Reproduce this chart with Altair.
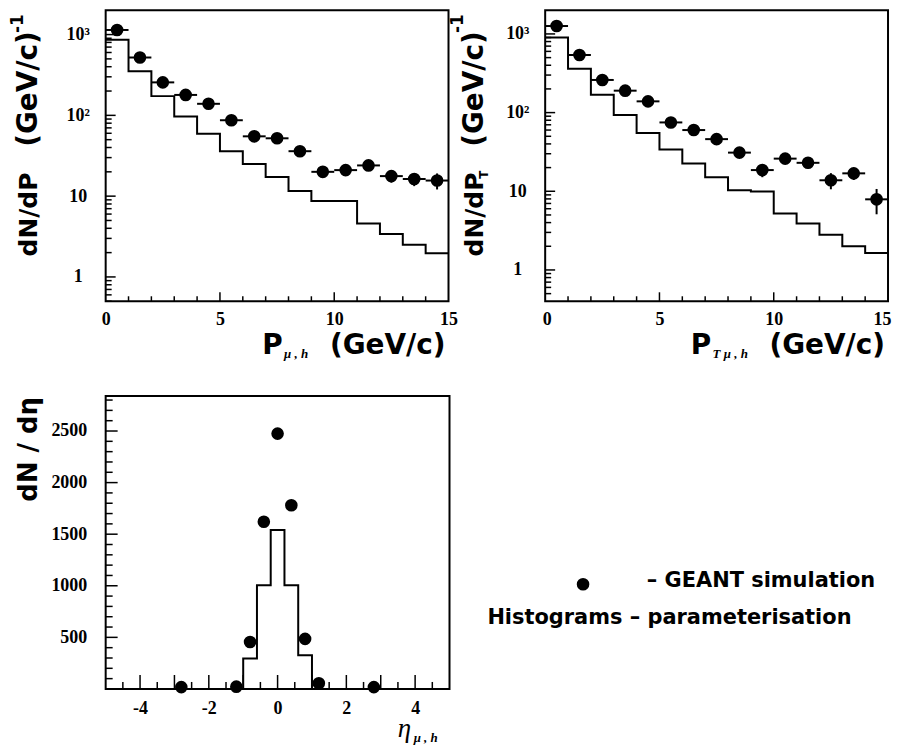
import altair as alt
import pandas as pd

# ---------------- data ----------------
p_centers = [0.5, 1.5, 2.5, 3.5, 4.5, 5.5, 6.5, 7.5, 8.5, 9.5, 10.5, 11.5, 12.5, 13.5, 14.5]
p_lo = [0, 1, 2, 3, 4, 5, 6, 7, 8, 9, 10, 11, 12, 13, 14]
p_hi = [1, 2, 3, 4, 5, 6, 7, 8, 9, 10, 11, 12, 13, 14, 15]
hist_edges = [0, 1, 2, 3, 4, 5, 6, 7, 8, 9, 10, 11, 12, 13, 14, 15]

sim_p = [1140, 520, 256, 179, 139, 87, 55, 52, 36, 20, 21, 24, 17.7, 16.3, 15.6]
sim_p_err = [30, 20, 14, 12, 10, 7, 5, 5, 4, 2.5, 2.5, 3, 3, 3, 3.5]
hist_p = [860, 352, 173, 97, 59, 36, 25, 17.3, 11.6, 8.7, 8.7, 4.6, 3.4, 2.5, 1.96]

sim_pt = [1260, 540, 260, 190, 139, 75, 60, 46, 31, 18.6, 26, 23, 13.8, 16.9, 7.9]
sim_pt_err = [30, 20, 14, 12, 10, 7, 6, 5, 4, 3.5, 3.5, 3.5, 3.2, 3, 2.8]
hist_pt = [898, 360, 169, 93, 55, 34, 22.6, 15.1, 10.3, 9.9, 5.2, 3.9, 2.8, 2.0, 1.64]

eta_sim_x = [-2.8, -1.2, -0.8, -0.4, 0.0, 0.4, 0.8, 1.2, 2.8]
eta_sim_y = [18, 22, 455, 1620, 2475, 1780, 485, 55, 18]
eta_edges = [-5.0, -1.0, -0.6, -0.2, 0.2, 0.6, 1.0, 5.0]
eta_hist = [0, 295, 1005, 1540, 1005, 327, 0]

log_major = [1, 10, 100, 1000]
log_minor = [0.5, 0.6, 0.7, 0.8, 0.9, 2, 3, 4, 5, 6, 7, 8, 9,
             20, 30, 40, 50, 60, 70, 80, 90, 200, 300, 400, 500, 600, 700, 800, 900]
p_tick_major = [5, 10]
p_tick_minor = [1, 2, 3, 4, 6, 7, 8, 9, 11, 12, 13, 14]
p_labels = [0, 5, 10, 15]
eta_tick_major = [-4, -3, -2, -1, 0, 1, 2, 3, 4]
eta_tick_minor = [-4.5, -3.5, -2.5, -1.5, -0.5, 0.5, 1.5, 2.5, 3.5, 4.5]
eta_labels = [-4, -2, 0, 2, 4]
eta_ytick_major = [500, 1000, 1500, 2000, 2500]
eta_ytick_minor = [100, 200, 300, 400, 600, 700, 800, 900, 1100, 1200, 1300, 1400,
                   1600, 1700, 1800, 1900, 2100, 2200, 2300, 2400, 2600, 2700, 2800]

# ---------------- style ----------------
TW = 344
TH = 292
BW = 345
BH = 294
SANS = "DejaVu Sans"
SERIF = "Liberation Serif"
LBL = 18


def txt(text, x, y, size=26, angle=0, align="left", baseline="alphabetic",
        font=SANS, weight="bold", style="normal"):
    return alt.Chart(pd.DataFrame({"d": [0]})).mark_text(
        text=text, font=font, fontSize=size, fontWeight=weight, fontStyle=style,
        align=align, baseline=baseline, angle=angle, color="black"
    ).encode(x=alt.value(x), y=alt.value(y))


def yticks(vals, Y, length):
    return alt.Chart(pd.DataFrame({"t": vals})).mark_tick(
        orient="horizontal", color="black", thickness=1.5, size=length, opacity=1
    ).encode(y=Y("t:Q"), x=alt.value(length / 2))


def xticks(vals, X, length, h):
    return alt.Chart(pd.DataFrame({"t": vals})).mark_tick(
        orient="vertical", color="black", thickness=1.5, size=length, opacity=1
    ).encode(x=X("t:Q"), y=alt.value(h - length / 2))


def log_panel(sim, err, hist, ydomain, sub_x_text, sub_title_x, ytitle_x, sup_x,
              ysub, flush):
    xs = alt.Scale(domain=[0, 15], nice=False, zero=False)
    ys = alt.Scale(type="log", domain=ydomain, nice=False)
    if flush:
        xaxis = alt.Axis(values=p_labels, format="d", title=None, labelPadding=9,
                         labelFlush=True, labelFlushOffset=3)
    else:
        xaxis = alt.Axis(values=p_labels, format="d", title=None, labelPadding=9)
    yaxis = alt.Axis(values=log_major, title=None, labelAlign="center", labelPadding=28,
                     labelExpr="datum.value == 1000 ? '10³' : datum.value == 100 ? '10²' : datum.value == 10 ? '10' : '1'")

    def X(f):
        return alt.X(f, scale=xs, axis=xaxis)

    def Y(f):
        return alt.Y(f, scale=ys, axis=yaxis)

    dfh = pd.DataFrame({"x": hist_edges, "y": hist + [hist[-1]]})
    dfs = pd.DataFrame({
        "c": p_centers, "lo": p_lo, "hi": p_hi, "v": sim,
        "vlo": [a - b for a, b in zip(sim, err)],
        "vhi": [a + b for a, b in zip(sim, err)],
    })

    hline = alt.Chart(dfh).mark_line(interpolate="step-after", color="black",
                                     strokeWidth=2).encode(x=X("x:Q"), y=Y("y:Q"))
    hbar = alt.Chart(dfs).mark_rule(color="black", strokeWidth=2).encode(
        x=X("lo:Q"), x2="hi:Q", y=Y("v:Q"))
    vbar = alt.Chart(dfs).mark_rule(color="black", strokeWidth=2).encode(
        x=X("c:Q"), y=Y("vlo:Q"), y2="vhi:Q")
    pts = alt.Chart(dfs).mark_circle(size=160, color="black", opacity=1).encode(
        x=X("c:Q"), y=Y("v:Q"))

    ticks = [
        yticks(log_major, Y, 10),
        yticks(log_minor, Y, 6),
        xticks(p_tick_major, X, 9, TH),
        xticks(p_tick_minor, X, 5, TH),
    ]

    titles = [
        txt("P", sub_title_x, 345, size=28),
        txt(sub_x_text, sub_title_x + 22, 349, size=13, font=SERIF, style="italic"),
        txt("(GeV/c)", 341, 345, size=28, align="right"),
        txt("dN/dP", ytitle_x, 247, size=25, angle=270, baseline="middle"),
        txt("(GeV/c)", ytitle_x, 21, size=28, angle=270, align="right", baseline="middle"),
        txt("-1", sup_x, 4, size=17, angle=270, align="right", baseline="middle"),
    ]
    if ysub:
        titles.append(txt("T", ytitle_x + 9, 165, size=12, angle=270,
                          align="center", baseline="middle"))

    return alt.layer(hline, hbar, vbar, pts, *ticks, *titles).properties(
        width=TW, height=TH)


left = log_panel(sim_p, sim_p_err, hist_p, [0.5, 2000], "μ , h", 157, -77, -88,
                 False, False)
right = log_panel(sim_pt, sim_pt_err, hist_pt, [0.4, 2000], "T μ , h", 146, -70, -87,
                  True, True)

# ---------------- eta panel ----------------
exs = alt.Scale(domain=[-5, 5], nice=False, zero=False)
eys = alt.Scale(domain=[0, 2840], nice=False)
exaxis = alt.Axis(values=eta_labels, title=None, labelPadding=11,
                  labelExpr="'' + datum.value")
eyaxis = alt.Axis(values=eta_ytick_major, title=None, labelAlign="right",
                  labelPadding=19, format="d")


def EX(f):
    return alt.X(f, scale=exs, axis=exaxis)


def EY(f):
    return alt.Y(f, scale=eys, axis=eyaxis)


dfeh = pd.DataFrame({"x": eta_edges, "y": eta_hist + [eta_hist[-1]]})
dfes = pd.DataFrame({"x": eta_sim_x, "y": eta_sim_y})

ehist = alt.Chart(dfeh).mark_line(interpolate="step-after", color="black",
                                  strokeWidth=2).encode(x=EX("x:Q"), y=EY("y:Q"))
epts = alt.Chart(dfes).mark_circle(size=160, color="black", opacity=1).encode(
    x=EX("x:Q"), y=EY("y:Q"))
eticks = [
    yticks(eta_ytick_major, EY, 12),
    yticks(eta_ytick_minor, EY, 7),
    xticks(eta_tick_major, EX, 14, BH),
    xticks(eta_tick_minor, EX, 7, BH),
]

eta_titles = [
    txt("dN / dη", -77, 1, angle=270, align="right", baseline="middle"),
    txt("η", 293, 342, size=27, font=SERIF, style="italic", weight="normal"),
    txt("μ , h", 309, 347, size=13, font=SERIF, style="italic"),
    # legend
    alt.Chart(pd.DataFrame({"d": [0]})).mark_circle(size=160, color="black", opacity=1).encode(
        x=alt.value(479), y=alt.value(189)),
    txt("–  GEANT simulation", 543, 186, size=21, baseline="middle"),
    txt("Histograms – parameterisation", 383, 223, size=21, baseline="middle"),
]

eta = alt.layer(ehist, epts, *eticks, *eta_titles).properties(width=BW, height=BH)

chart = alt.concat(left, right, eta, columns=2,
                   spacing={"row": 95, "column": 96}, bounds="flush").properties(
    padding={"left": 0, "top": 0, "right": 0, "bottom": 0},
    background="white",
).configure_view(
    stroke="black", strokeWidth=2
).configure_axis(
    grid=False, ticks=False, domain=False, labelFlush=False, labelOverlap=False,
    labelFont=SERIF, labelFontSize=LBL, labelFontWeight="bold", labelColor="black",
)

chart.save("out.html", embed_options={"renderer": "svg", "actions": False})
